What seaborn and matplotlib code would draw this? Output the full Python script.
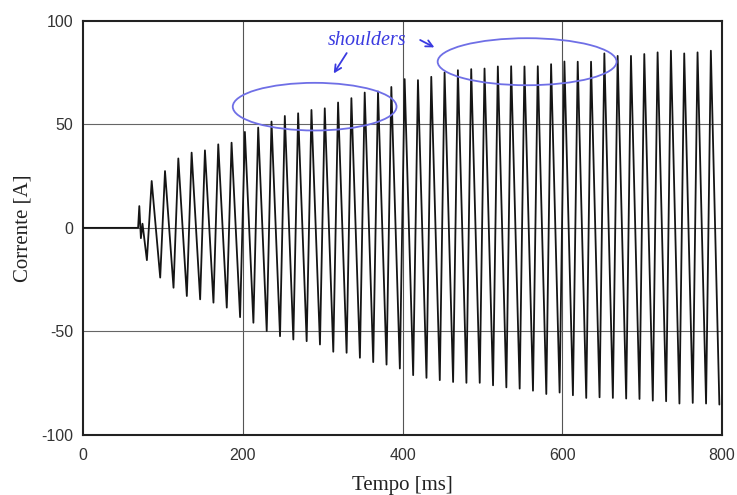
import numpy as np
import pandas as pd
import matplotlib
matplotlib.use("Agg")
import matplotlib.pyplot as plt
from matplotlib.patches import Ellipse
from matplotlib.ticker import MultipleLocator
import seaborn as sns

# Inrush current record: positive and negative peak of each 60 Hz cycle [A]
pos_peaks = [22.6, 27.4, 33.5, 36.3, 37.4, 40.3, 41.1, 46.3, 48.4, 51.3,
             54.0, 55.3, 56.9, 57.7, 60.5, 62.6, 65.3, 65.8, 68.0, 71.8,
             71.3, 72.9, 75.0, 76.1, 76.6, 76.9, 77.9, 78.0, 77.9, 78.0,
             79.0, 80.3, 80.2, 80.2, 84.2, 83.0, 83.0, 83.9, 84.7, 85.5,
             84.2, 84.7, 85.5]
neg_peaks = [-15.6, -24.0, -28.9, -32.9, -34.5, -36.1, -38.5, -43.1, -45.8, -49.8,
             -52.3, -53.9, -54.7, -56.3, -59.8, -60.3, -62.7, -64.8, -66.0, -67.9,
             -71.1, -72.4, -73.5, -74.4, -74.8, -74.8, -76.0, -77.0, -77.6, -78.6,
             -80.2, -79.5, -80.8, -82.1, -81.8, -82.1, -82.4, -82.6, -83.4, -83.7,
             -84.8, -84.5, -84.8, -85.3]
# switching transient before the first full cycle
pre_t = [0.0, 69.0, 70.5, 72.5, 74.5]
pre_i = [0.0, 0.0, 10.5, -5.0, 2.0]

period_ms = 1000.0 / 60.0
first_neg_ms = 80.0
first_pos_ms = 86.0

x_ticks = [0, 200, 400, 600, 800]
y_ticks = [-100, -50, 0, 50, 100]

# assemble the trace: transient, then alternating negative / positive peaks
neg_t = first_neg_ms + period_ms * np.arange(len(neg_peaks))
pos_t = first_pos_ms + period_ms * np.arange(len(pos_peaks))
t = list(pre_t)
i = list(pre_i)
for k in range(len(neg_peaks)):
    t.append(neg_t[k]); i.append(neg_peaks[k])
    if k < len(pos_peaks):
        t.append(pos_t[k]); i.append(pos_peaks[k])
df = pd.DataFrame({"Tempo": t, "Corrente": i})

sns.set_theme(style="white")
plt.rcParams["font.family"] = ["Liberation Sans", "DejaVu Sans"]

fig = plt.figure(figsize=(7.37, 4.95), dpi=100)
ax = fig.add_axes([0.1126, 0.1212, 0.8671, 0.837])

for gx in (200, 400, 600):
    ax.axvline(gx, color="#555555", lw=0.8, zorder=1)
for gy in (-50, 0, 50):
    ax.axhline(gy, color="#666666", lw=0.8, zorder=1)

sns.lineplot(data=df, x="Tempo", y="Corrente", sort=False, estimator=None,
             color="#151515", lw=1.3, ax=ax, zorder=3)

ax.set_xlim(0, 800)
ax.set_ylim(-100, 100)
ax.set_xticks(x_ticks)
ax.set_yticks(y_ticks)
ax.set_xticklabels([str(v) for v in x_ticks])
ax.set_yticklabels([str(v) for v in y_ticks])
ax.xaxis.set_minor_locator(MultipleLocator(100))
ax.yaxis.set_minor_locator(MultipleLocator(25))
ax.tick_params(which="both", direction="in", color="#222222")
ax.tick_params(which="major", length=5, width=1.0, labelsize=11.5,
               labelcolor="#333333")
ax.tick_params(axis="x", which="major", pad=9)
ax.tick_params(axis="y", which="major", pad=7)
ax.tick_params(which="minor", length=3, width=0.8)
for s in ax.spines.values():
    s.set_color("#222222")
    s.set_linewidth(1.5)

serif = ["Liberation Serif", "DejaVu Serif"]
ax.set_xlabel("Tempo [ms]", family=serif, fontsize=15, color="#222222", labelpad=10)
ax.set_ylabel("Corrente [A]", family=serif, fontsize=15, color="#222222", labelpad=6)

# hand-drawn annotation of the waveform shoulders
blue = "#3a3ae0"
ax.add_patch(Ellipse((290, 58.5), 205, 23, fill=False, ec="#6f6fe6", lw=1.3, zorder=4))
ax.add_patch(Ellipse((556, 80.2), 224, 22.7, fill=False, ec="#6f6fe6", lw=1.3, zorder=4))
ax.text(356, 90.3, "shoulders", color=blue, fontsize=14.5, style="italic",
        family=serif, ha="center", va="center", zorder=5)
ax.annotate("", xy=(312, 73.4), xytext=(332, 85.5),
            arrowprops=dict(arrowstyle="->", color=blue, lw=1.3), zorder=5)
ax.annotate("", xy=(443, 86.5), xytext=(419, 91.3),
            arrowprops=dict(arrowstyle="->", color=blue, lw=1.3), zorder=5)

fig.savefig("out.png", dpi=100, facecolor="white")
